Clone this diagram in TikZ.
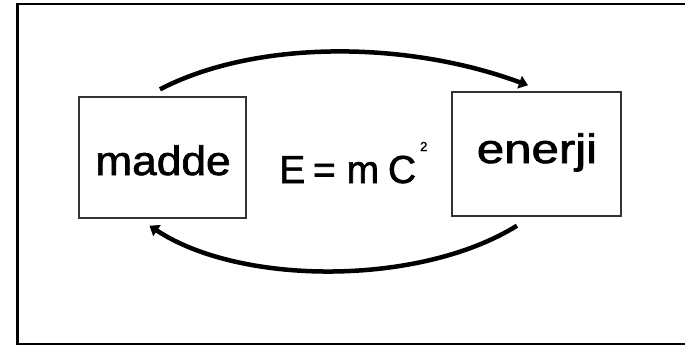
\documentclass[tikz,border=0pt]{standalone}
\usepackage{fontspec}
\setmainfont{Liberation Sans}
\newfontfamily\medfont{Liberation Sans}[FakeBold=1.6]
\usetikzlibrary{arrows.meta,calc}
\begin{document}
\begin{tikzpicture}[x=1pt,y=-1pt,
  frame/.style={line width=2.5pt,line cap=rect},
  boxnode/.style={draw=black!80,line width=1.4pt,inner sep=0pt},
  word/.style={inner sep=0pt,anchor=base,font=\fontsize{41}{41}\medfont},
  bigarrow/.style={line width=4.5pt,-{Triangle[length=9pt,width=13pt]}}]
\useasboundingbox (0,0) rectangle (685,346);
% frame (open at the right)
\draw[frame] (690,4) -- (17.5,4) -- (17.5,344) -- (690,344);
% boxes
\node[boxnode,minimum width=167pt,minimum height=121pt] (madde) at (162.5,157.5) {};
\node[boxnode,minimum width=169pt,minimum height=124pt] (enerji) at (536.5,154) {};
% texts
\node[word] (tmadde) at (163,175) {\scalebox{1.08}[1]{madde}};
\node[word] (tenerji) at (537,163) {\scalebox{1.2}[1]{enerji}};
\node[inner sep=0pt,anchor=base west,font=\fontsize{39}{39}\medfont] (eq) at (279,183)
  {E\hspace{-3pt} = m\hspace{-2pt} C\hspace{4pt}\raisebox{32pt}{\fontsize{13}{13}\selectfont 2}};
% arrows
\coordinate (a1) at ($(madde.north)+(-2.5,-7)$);
\coordinate (a2) at ($(enerji.north)+(-8.5,-6)$);
\coordinate (b1) at ($(enerji.south)+(-19.5,9)$);
\coordinate (b2) at ($(madde.south)+(-13,7)$);
\draw[bigarrow] (a1) .. controls (255,40) and (405,40) .. (a2);
\draw[bigarrow] (b1) .. controls (420,286) and (241,286) .. (b2);
\end{tikzpicture}
\end{document}
